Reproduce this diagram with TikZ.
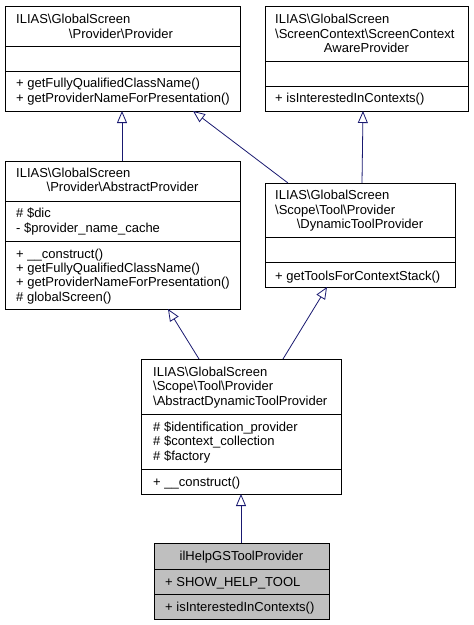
\documentclass[tikz,border=0pt]{standalone}
\usepackage{fontspec}
\setmainfont{Liberation Sans}
\usetikzlibrary{arrows.meta,calc}
\begin{document}
\begin{tikzpicture}[x=1pt,y=-1pt,
  cls/.style={draw=black,line width=0.8pt,inner sep=0pt,anchor=north west},
  sepline/.style={draw=black,line width=0.8pt},
  txt/.style={anchor=base west,inner sep=0pt,font=\fontsize{13pt}{15pt}\selectfont},
  ctxt/.style={anchor=base,inner sep=0pt,font=\fontsize{13pt}{15pt}\selectfont},
  inh/.style={draw={rgb,255:red,25;green,25;blue,112},line width=0.8pt,
    -{Triangle[open,length=12pt,width=10pt,fill=white]}}]
\useasboundingbox (0,0) rectangle (474,625);
% Box 1
\node[cls,minimum width=235pt,minimum height=105pt] (b1) at (5,6) {};
\draw[sepline] (5,46) -- (240,46) (5,71) -- (240,71);
\node[txt] (b1t1) at (16,23) {ILIAS\textbackslash GlobalScreen};
\node[ctxt] (b1t2) at (121,38) {\textbackslash Provider\textbackslash Provider};
\node[txt] (b1m1) at (16,87) {+ getFullyQualifiedClassName()};
\node[txt] (b1m2) at (16,102) {+ getProviderNameForPresentation()};
% Box 2
\node[cls,minimum width=203pt,minimum height=105pt] (b2) at (265,6) {};
\draw[sepline] (265,61) -- (468,61) (265,86) -- (468,86);
\node[txt] (b2t1) at (275,23) {ILIAS\textbackslash GlobalScreen};
\node[txt] (b2t2) at (275,38) {\textbackslash ScreenContext\textbackslash ScreenContext};
\node[ctxt] (b2t3) at (366.5,52) {AwareProvider};
\node[txt] (b2m1) at (275,102) {+ isInterestedInContexts()};
% Box 3
\node[cls,minimum width=235pt,minimum height=148pt] (b3) at (5,161) {};
\draw[sepline] (5,201) -- (240,201) (5,241) -- (240,241);
\node[txt] (b3t1) at (16,177) {ILIAS\textbackslash GlobalScreen};
\node[ctxt] (b3t2) at (122.5,191) {\textbackslash Provider\textbackslash AbstractProvider};
\node[txt] (b3a1) at (16,217) {\# \$dic};
\node[txt] (b3a2) at (16,232) {- \$provider\_name\_cache};
\node[txt] (b3m1) at (16,258) {+ \_\_construct()};
\node[txt] (b3m2) at (16,272) {+ getFullyQualifiedClassName()};
\node[txt] (b3m3) at (16,286) {+ getProviderNameForPresentation()};
\node[txt] (b3m4) at (16,301) {\# globalScreen()};
% Box 4
\node[cls,minimum width=190pt,minimum height=104pt] (b4) at (265,183) {};
\draw[sepline] (265,237) -- (455,237) (265,262) -- (455,262);
\node[txt] (b4t1) at (275,199) {ILIAS\textbackslash GlobalScreen};
\node[txt] (b4t2) at (275,214) {\textbackslash Scope\textbackslash Tool\textbackslash Provider};
\node[ctxt] (b4t3) at (360,228) {\textbackslash DynamicToolProvider};
\node[txt] (b4m1) at (275,280) {+ getToolsForContextStack()};
% Box 5
\node[cls,minimum width=200pt,minimum height=135pt] (b5) at (141,359) {};
\draw[sepline] (141,414) -- (341,414) (141,469) -- (341,469);
\node[txt] (b5t1) at (153,376) {ILIAS\textbackslash GlobalScreen};
\node[txt] (b5t2) at (153,390) {\textbackslash Scope\textbackslash Tool\textbackslash Provider};
\node[txt] (b5t3) at (153,405) {\textbackslash AbstractDynamicToolProvider};
\node[txt] (b5a1) at (153,431) {\# \$identification\_provider};
\node[txt] (b5a2) at (153,445) {\# \$context\_collection};
\node[txt] (b5a3) at (153,460) {\# \$factory};
\node[txt] (b5m1) at (153,486) {+ \_\_construct()};
% Box 6
\node[cls,fill={rgb,255:red,191;green,191;blue,191},minimum width=175pt,minimum height=76pt] (b6) at (154,543) {};
\draw[sepline] (154,569) -- (329,569) (154,594) -- (329,594);
\node[ctxt] (b6t1) at (241.5,560) {ilHelpGSToolProvider};
\node[txt] (b6a1) at (165,586) {+ SHOW\_HELP\_TOOL};
\node[txt] (b6m1) at (165,611) {+ isInterestedInContexts()};
% Inheritance
\coordinate (c31) at (122,161);
\coordinate (c11) at (122,111);
\coordinate (c41) at (288,183);
\coordinate (c14) at (193,111);
\coordinate (c42) at (362,183);
\coordinate (c24) at (363,111);
\coordinate (c53) at (199,359);
\coordinate (c35) at (168,309);
\coordinate (c54) at (283,359);
\coordinate (c45) at (327,287);
\coordinate (c65) at (241,543);
\coordinate (c56) at (241,494);
\draw[inh] (c31) -- (c11);
\draw[inh] (c41) -- (c14);
\draw[inh] (c42) -- (c24);
\draw[inh] (c53) -- (c35);
\draw[inh] (c54) -- (c45);
\draw[inh] (c65) -- (c56);
\end{tikzpicture}
\end{document}
